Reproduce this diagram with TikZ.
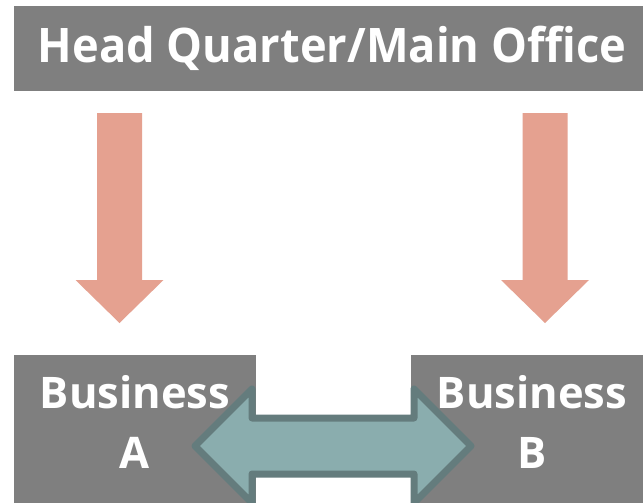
\documentclass[tikz,border=0pt]{standalone}
\usepackage{fontspec}
\setmainfont[FakeStretch=0.95]{Open Sans}
\newfontfamily\wideopen{Open Sans}
\usetikzlibrary{positioning}
\definecolor{boxgray}{HTML}{7F7F7F}
\definecolor{salmon}{HTML}{E5A190}
\definecolor{tealfill}{HTML}{8AADAE}
\definecolor{tealline}{HTML}{647C7D}
\tikzstyle{office}=[rectangle, fill=boxgray, text=white, font=\bfseries, inner sep=0]
\tikzstyle{business}=[office, minimum width=242pt, minimum height=155pt, text height=90pt, text depth=19pt, align=center,
      font=\wideopen\bfseries\fontsize{43.5}{60}\selectfont]
\tikzstyle{downarrow}=[fill=salmon]
\tikzstyle{linkarrow}=[fill=tealfill, draw=tealline, line width=7pt, line join=round]
\begin{document}
\begin{tikzpicture}[x=1pt,y=-1pt]
\clip (0,0) rectangle (643,503);
\fill[white] (0,0) rectangle (643,503);
\node[office, minimum width=636pt, minimum height=85pt, text height=34pt, text depth=5pt,
      font=\bfseries\fontsize{47.6}{57}\selectfont] (hq) at (332,48.5) {Head Quarter/Main Office};
\node[business] (busa) at (135,432.5) {Business\\A};
\node[business] (busb) at (532,432.5) {Business\\B};
\foreach \x in {119.5,545}{
	\fill[downarrow] (\x-22.5,113)--(\x+22.5,113)--(\x+22.5,280)--(\x+44,280)--(\x,323)--(\x-44,280)--(\x-22.5,280)--cycle;
	}
\draw[linkarrow] (195,446)--(252,389)--(252,418)--(414,418)--(414,389)--(471,446)--(414,503)--(414,474)--(252,474)--(252,503)--cycle;
\end{tikzpicture}
\end{document}
